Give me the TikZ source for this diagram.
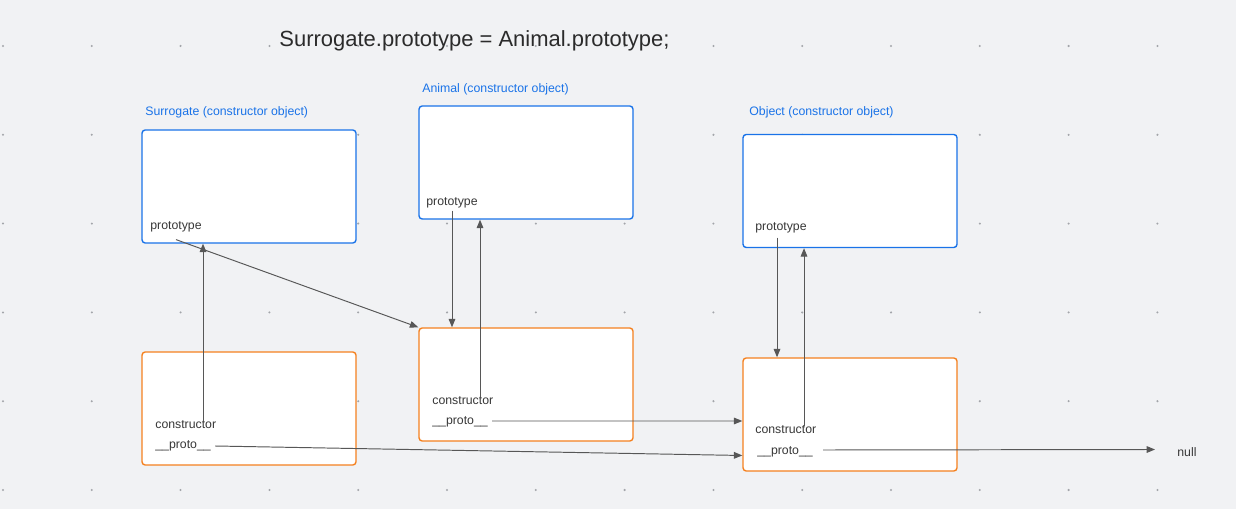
\documentclass[tikz,border=0pt]{standalone}
\usepackage{fontspec}
\setmainfont{Liberation Sans}
\usepackage{tikz}
\usetikzlibrary{arrows.meta, calc}
\definecolor{canvas}{HTML}{F1F2F4}
\definecolor{gridgray}{HTML}{A3A5AA}
\definecolor{ctorblue}{HTML}{1A73E8}
\definecolor{protoorange}{HTML}{F5811F}
\definecolor{textgray}{HTML}{383838}
\definecolor{titlegray}{HTML}{2B2B2B}
\definecolor{linkgray}{HTML}{575757}

\begin{document}
\begin{tikzpicture}[
    x=0.02cm, y=-0.02cm,
    ctor/.style={draw=ctorblue, rectangle, rounded corners=1.8pt, line width=0.8pt,
                minimum width=4.28cm, minimum height=2.26cm, inner sep=0pt, fill=white},
    proto/.style={draw=protoorange, rectangle, rounded corners=1.8pt, line width=0.8pt,
                minimum width=4.28cm, minimum height=2.26cm, inner sep=0pt, fill=white},
    caption/.style={anchor=west, inner sep=0pt, text=ctorblue, font=\fontsize{7}{8}\selectfont},
    field/.style={anchor=west, inner sep=0pt, text=textgray, font=\fontsize{7}{8}\selectfont},
    arrow/.style={-{Triangle[length=4.8pt, width=3.8pt]}, line width=0.55pt, draw=linkgray}
]

%% ---- CANVAS AND DOT GRID ----
\fill [canvas] (0,0) rectangle (1236,509);
\useasboundingbox (0,0) rectangle (1236,509);
\foreach \i in {0,...,13}
  \foreach \j in {0,...,5}
    \fill [gridgray] (3+88.8*\i, 46+88.8*\j) circle (0.65pt);

%% ---- TITLE ----
\node [text=titlegray, font=\fontsize{12.5}{14}\selectfont] (title) at (474.5,41)
      {Surrogate.prototype = Animal.prototype;};

%% ---- TOP ROW: constructor objects ----
\node [ctor]  (surrCtor)    at (249,186.5) {};
\node [ctor]  (animalCtor)  at (526,162.5) {};
\node [ctor]  (objectCtor)  at (850,191)   {};

\node [caption] (surrCaption)   at (145,112) {Surrogate (constructor object)};
\node [caption] (animalCaption) at (422,89)  {Animal (constructor object)};
\node [caption] (objectCaption) at (749,112) {Object (constructor object)};

\node [field] (surrPrototype)   at (150,227) {prototype};
\node [field] (animalPrototype) at (426,203) {prototype};
\node [field] (objectPrototype) at (755,228) {prototype};

%% ---- BOTTOM ROW: prototype objects ----
\node [proto] (surrProto)   at (249,408.5) {};
\node [proto] (animalProto) at (526,384.5) {};
\node [proto] (objectProto) at (850,414.5) {};

\node [field] (surrConstructor)   at (155,425) {constructor};
\node [field] (surrProtoLink)     at (155,446) {\_\_proto\_\_};
\node [field] (animalConstructor) at (432,401) {constructor};
\node [field] (animalProtoLink)   at (432,422) {\_\_proto\_\_};
\node [field] (objectConstructor) at (755,430) {constructor};
\node [field] (objectProtoLink)   at (757,452) {\_\_proto\_\_};
\node [field] (null)              at (1177,452) {null};

%% ---- ARROW END POINTS on the box borders ----
\coordinate (surrCtorIn)     at ([xshift=-0.92cm]surrCtor.south);
\coordinate (animalCtorIn)   at ([xshift=-0.92cm]animalCtor.south);
\coordinate (objectCtorIn)   at ([xshift=-0.92cm]objectCtor.south);
\coordinate (objectProtoIn)  at ([yshift=-0.82cm]objectProto.west);
\coordinate (objectProtoTop) at ([xshift=-1.46cm]objectProto.north);
\coordinate (objectProtoMid) at ([yshift=-0.13cm]objectProto.west);

%% ---- prototype links (down) ----
\draw [arrow] ([yshift=-0.14cm]surrPrototype.south) -- (animalProto.north west);
\draw [arrow] ([yshift=-0.04cm]animalPrototype.south) -- (animalPrototype.south |- animalProto.north);
\draw [arrow] (objectPrototype.south -| objectProtoTop) ++(0,4) -- (objectProtoTop);

%% ---- constructor links (up) ----
\draw [arrow] (surrConstructor.north -| surrCtorIn)     -- (surrCtorIn);
\draw [arrow] (animalConstructor.north -| animalCtorIn) -- (animalCtorIn);
\draw [arrow] (objectConstructor.north -| objectCtorIn) -- (objectCtorIn);

%% ---- __proto__ chain (right) ----
\draw [arrow] ([xshift=0.08cm]surrProtoLink.east)   -- (objectProtoIn);
\draw [arrow] ([xshift=0.08cm]animalProtoLink.east -| animalProtoLink.east) ++(0,-1) -- (objectProtoMid);
\draw [arrow] ([xshift=0.2cm,yshift=0.04cm]objectProtoLink.east) -- ([xshift=-0.44cm,yshift=0.05cm]null.west);

\end{tikzpicture}
\end{document}
